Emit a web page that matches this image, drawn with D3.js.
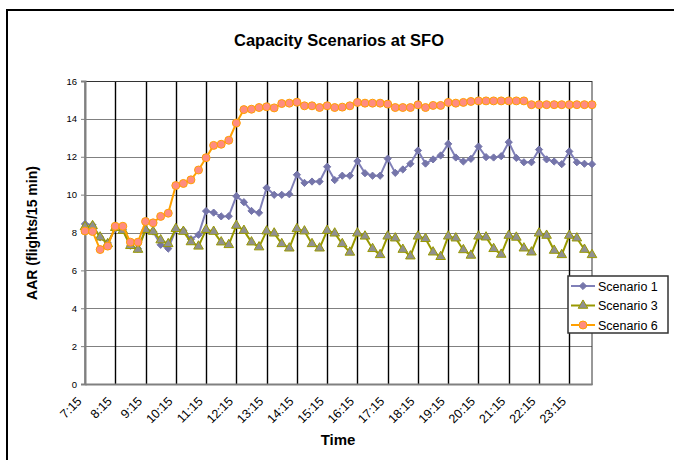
<!DOCTYPE html>
<html>
<head>
<meta charset="utf-8">
<script src="https://cdn.jsdelivr.net/npm/d3@7"></script>
<style>
  html, body { margin: 0; padding: 0; background: #fff; }
  svg { display: block; font-family: "Liberation Sans", Arial, sans-serif; }
</style>
</head>
<body>
<svg id="chart" width="674" height="460"></svg>
<script>
// Quarter-hour slots from 7:15 through 24:00
const times = [
  "7:15","7:30","7:45","8:00","8:15","8:30","8:45","9:00","9:15","9:30","9:45","10:00",
  "10:15","10:30","10:45","11:00","11:15","11:30","11:45","12:00","12:15","12:30","12:45","13:00",
  "13:15","13:30","13:45","14:00","14:15","14:30","14:45","15:00","15:15","15:30","15:45","16:00",
  "16:15","16:30","16:45","17:00","17:15","17:30","17:45","18:00","18:15","18:30","18:45","19:00",
  "19:15","19:30","19:45","20:00","20:15","20:30","20:45","21:00","21:15","21:30","21:45","22:00",
  "22:15","22:30","22:45","23:00","23:15","23:30","23:45","24:00"
];

const scenario1 = [
  8.45, 8.40, 7.75, 7.45, 8.20, 8.15, 7.30, 7.15, 8.15, 8.05, 7.35, 7.15,
  8.15, 8.10, 7.65, 7.88, 9.13, 9.05, 8.85, 8.86, 9.92, 9.60, 9.14, 9.04,
  10.36, 9.99, 9.99, 10.02, 11.05, 10.62, 10.69, 10.69, 11.47, 10.77, 11.00, 11.00,
  11.77, 11.13, 11.00, 11.00, 11.90, 11.15, 11.33, 11.63, 12.33, 11.64, 11.86, 12.07,
  12.68, 11.96, 11.75, 11.89, 12.54, 11.98, 11.96, 12.03, 12.77, 11.94, 11.71, 11.71,
  12.38, 11.86, 11.75, 11.61, 12.28, 11.71, 11.63, 11.61
];

const scenario3 = [
  8.30, 8.35, 7.75, 7.40, 8.25, 8.10, 7.30, 7.10, 8.15, 8.05, 7.60, 7.40,
  8.20, 8.05, 7.50, 7.27, 8.15, 8.05, 7.49, 7.35, 8.37, 8.10, 7.49, 7.23,
  8.07, 7.96, 7.40, 7.17, 8.19, 8.07, 7.40, 7.17, 8.10, 7.96, 7.40, 6.95,
  7.96, 7.80, 7.14, 6.82, 7.80, 7.70, 7.10, 6.75, 7.80, 7.67, 6.96, 6.72,
  7.80, 7.70, 7.08, 6.79, 7.80, 7.75, 7.14, 6.84, 7.84, 7.74, 7.17, 6.96,
  7.96, 7.84, 7.05, 6.82, 7.84, 7.70, 7.10, 6.82
];

const scenario6 = [
  8.08, 8.05, 7.10, 7.28, 8.33, 8.33, 7.49, 7.49, 8.58, 8.51, 8.85, 9.02,
  10.48, 10.59, 10.78, 11.30, 11.95, 12.60, 12.66, 12.87, 13.78, 14.49, 14.51, 14.60,
  14.64, 14.58, 14.81, 14.83, 14.88, 14.69, 14.69, 14.60, 14.69, 14.60, 14.62, 14.69,
  14.87, 14.83, 14.83, 14.83, 14.78, 14.60, 14.60, 14.60, 14.74, 14.60, 14.71, 14.71,
  14.87, 14.83, 14.87, 14.92, 14.95, 14.95, 14.95, 14.95, 14.95, 14.95, 14.95, 14.75,
  14.75, 14.75, 14.75, 14.75, 14.75, 14.75, 14.75, 14.75
];

const yTicks = [0, 2, 4, 6, 8, 10, 12, 14, 16];
const seriesNames = ["Scenario 1", "Scenario 3", "Scenario 6"];

const svg = d3.select("#chart");

// outer chart frame
svg.append("rect")
  .attr("x", 7).attr("y", 10).attr("width", 720).attr("height", 520)
  .attr("fill", "none").attr("stroke", "#000").attr("stroke-width", 2);

const plot = { left: 85, right: 592, top: 81, bottom: 384 };

const x = d3.scalePoint().domain(times).range([plot.left, plot.right]).padding(0);
const y = d3.scaleLinear().domain([0, 16]).range([plot.bottom, plot.top]);

const labelTimes = times.filter((d, i) => i % 4 === 0);

// horizontal grid
svg.append("g").selectAll("line").data(yTicks).join("line")
  .attr("x1", plot.left).attr("x2", plot.right)
  .attr("y1", d => Math.round(y(d)) + 0.5).attr("y2", d => Math.round(y(d)) + 0.5)
  .attr("stroke", "#808080").attr("stroke-width", 1);

// vertical grid at each hour mark
svg.append("g").selectAll("line").data(labelTimes.slice(1)).join("line")
  .attr("x1", d => Math.round(x(d)) + 0.5).attr("x2", d => Math.round(x(d)) + 0.5)
  .attr("y1", plot.top).attr("y2", plot.bottom)
  .attr("stroke", "#000").attr("stroke-width", 1.4);

// plot border (top / right)
svg.append("rect")
  .attr("x", plot.left).attr("y", plot.top + 0.5)
  .attr("width", plot.right - plot.left).attr("height", plot.bottom - plot.top)
  .attr("fill", "none").attr("stroke", "#333").attr("stroke-width", 1);

// y axis
const yAxis = d3.axisLeft(y).tickValues(yTicks).tickSize(4).tickPadding(4);
const gy = svg.append("g").attr("transform", `translate(${plot.left},0)`).call(yAxis);
gy.select(".domain").attr("stroke", "#808080").attr("stroke-width", 2);
gy.selectAll(".tick line").attr("stroke", "#808080");
gy.selectAll(".tick text").attr("font-size", 9.5).attr("fill", "#000")
  .attr("font-family", "Liberation Sans, Arial, sans-serif");

// x axis
const xAxis = d3.axisBottom(x).tickValues(labelTimes).tickSize(0).tickPadding(0);
const gx = svg.append("g").attr("transform", `translate(0,${plot.bottom})`).call(xAxis);
gx.select(".domain").attr("stroke", "#808080").attr("stroke-width", 2);
gx.selectAll(".tick text")
  .attr("font-size", 12.5).attr("fill", "#000")
  .attr("font-family", "Liberation Sans, Arial, sans-serif")
  .attr("text-anchor", "end")
  .attr("dy", null).attr("y", 0)
  .attr("transform", "translate(-3,18) rotate(-45)");

// Excel-style diamond: a square turned 45 degrees
const diamond = {
  draw(context, size) {
    const r = Math.sqrt(size / 2);
    context.moveTo(0, -r);
    context.lineTo(r, 0);
    context.lineTo(0, r);
    context.lineTo(-r, 0);
    context.closePath();
  }
};

// series
const series = [
  { name: seriesNames[0], values: scenario1, line: "#8080b8", fill: "#7575aa", stroke: "#7575aa", shape: diamond, size: 26 },
  { name: seriesNames[1], values: scenario3, line: "#999900", fill: "#909090", stroke: "#999900", shape: d3.symbolTriangle, size: 40 },
  { name: seriesNames[2], values: scenario6, line: "#ffa000", fill: "#ff8c80", stroke: "#ffa000", shape: d3.symbolCircle, size: 50 }
];

const line = d3.line().x((d, i) => x(times[i])).y(d => y(d));

series.forEach(s => {
  const g = svg.append("g");
  g.append("path").datum(s.values).attr("d", line)
    .attr("fill", "none").attr("stroke", s.line).attr("stroke-width", 2)
    .attr("stroke-linejoin", "round");
  g.selectAll("path.m").data(s.values).join("path").attr("class", "m")
    .attr("d", d3.symbol(s.shape, s.size))
    .attr("transform", (d, i) => `translate(${x(times[i])},${y(d)})`)
    .attr("fill", s.fill).attr("stroke", s.stroke).attr("stroke-width", 1);
});

// titles
svg.append("text").attr("x", 339).attr("y", 46).attr("text-anchor", "middle")
  .attr("font-size", 16.5).attr("font-weight", "bold").text("Capacity Scenarios at SFO");

svg.append("text").attr("transform", "translate(37,233) rotate(-90)")
  .attr("text-anchor", "middle").attr("font-size", 14).attr("font-weight", "bold")
  .text("AAR (flights/15 min)");

svg.append("text").attr("x", 338).attr("y", 445).attr("text-anchor", "middle")
  .attr("font-size", 15).attr("font-weight", "bold").text("Time");

// legend
const lg = svg.append("g").attr("transform", "translate(568,276)");
lg.append("rect").attr("x", 0).attr("y", 0).attr("width", 100).attr("height", 57)
  .attr("fill", "#fff").attr("stroke", "#333").attr("stroke-width", 1.5);
series.forEach((s, i) => {
  const cy = 10 + i * 19.5;
  lg.append("line").attr("x1", 3).attr("x2", 27).attr("y1", cy).attr("y2", cy)
    .attr("stroke", s.line).attr("stroke-width", 2);
  lg.append("path").attr("d", d3.symbol(s.shape, s.size)())
    .attr("transform", `translate(15,${cy})`)
    .attr("fill", s.fill).attr("stroke", s.stroke).attr("stroke-width", 1);
  lg.append("text").attr("x", 30).attr("y", cy + 4.5).attr("font-size", 12.5)
    .text(s.name);
});
</script>
</body>
</html>
